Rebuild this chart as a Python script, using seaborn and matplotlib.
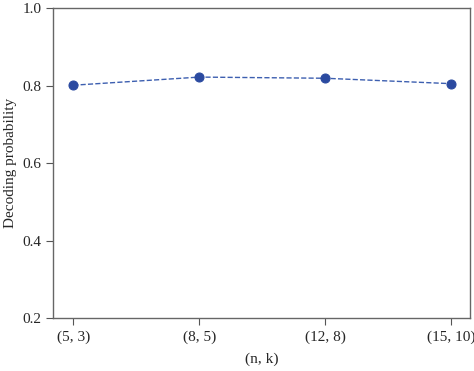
import matplotlib
matplotlib.use("Agg")
import matplotlib.pyplot as plt
import seaborn as sns
import pandas as pd

# data
params = ["(5, 3)", "(8, 5)", "(12, 8)", "(15, 10)"]
decoding_prob = [0.801, 0.822, 0.819, 0.805]

sns.set_style("ticks")
plt.rcParams["font.family"] = ["Liberation Serif", "DejaVu Serif"]

df = pd.DataFrame({"nk": params, "p": decoding_prob})

fig = plt.figure(figsize=(4.74, 3.71), dpi=100)
ax = fig.add_axes([0.112, 0.143, 0.880, 0.835])

sns.lineplot(data=df, x="nk", y="p", ax=ax, sort=False,
             color="#3d5fb0", linestyle="--", linewidth=1.0,
             marker="o", markersize=6.5, markerfacecolor="#2b4aa0",
             markeredgecolor="#2b4aa0")

ax.set_ylim(0.2, 1.0)
ax.set_yticks([0.2, 0.4, 0.6, 0.8, 1.0])
ax.set_xlim(-0.16, 3.15)
ax.set_xlabel("(n, k)", fontsize=11, labelpad=6)
ax.set_ylabel("Decoding probability", fontsize=11)
ax.tick_params(labelsize=11, color="#555555", length=5, width=0.8)
ax.tick_params(axis="x", pad=4)
for s in ax.spines.values():
    s.set_color("#666666")
    s.set_linewidth(1.0)
    s.set_visible(True)

fig.savefig("out.png", dpi=100)
